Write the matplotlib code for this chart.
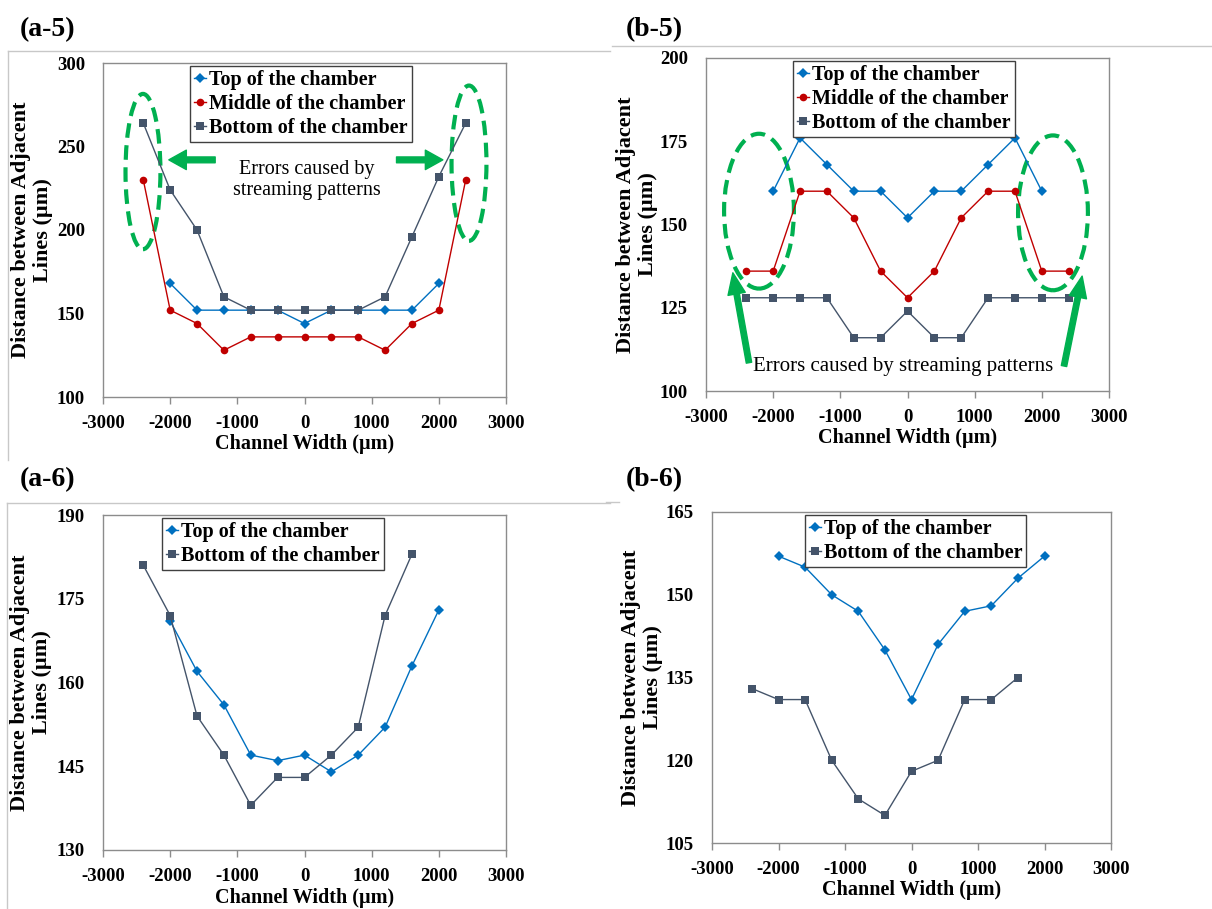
import matplotlib
matplotlib.use("Agg")
import matplotlib.pyplot as plt
from matplotlib.patches import Ellipse
from matplotlib.lines import Line2D

plt.rcParams['font.family'] = ['Liberation Serif', 'DejaVu Serif']
plt.rcParams['axes.unicode_minus'] = False

# ---- data ----
x_full = [-2400, -2000, -1600, -1200, -800, -400, 0, 400, 800, 1200, 1600, 2000, 2400]
x_inner = [-2000, -1600, -1200, -800, -400, 0, 400, 800, 1200, 1600, 2000]
x_left = [-2400, -2000, -1600, -1200, -800, -400, 0, 400, 800, 1200, 1600]

a5_top = [168, 152, 152, 152, 152, 144, 152, 152, 152, 152, 168]
a5_middle = [230, 152, 144, 128, 136, 136, 136, 136, 136, 128, 144, 152, 230]
a5_bottom = [264, 224, 200, 160, 152, 152, 152, 152, 152, 160, 196, 232, 264]

b5_top = [160, 176, 168, 160, 160, 152, 160, 160, 168, 176, 160]
b5_middle = [136, 136, 160, 160, 152, 136, 128, 136, 152, 160, 160, 136, 136]
b5_bottom = [128, 128, 128, 128, 116, 116, 124, 116, 116, 128, 128, 128, 128]

a6_top = [171, 162, 156, 147, 146, 147, 144, 147, 152, 163, 173]
a6_bottom = [181, 172, 154, 147, 138, 143, 143, 147, 152, 172, 183]

b6_top = [157, 155, 150, 147, 140, 131, 141, 147, 148, 153, 157]
b6_bottom = [133, 131, 131, 120, 113, 110, 118, 120, 131, 131, 135]

lbl_top = "Top of the chamber"
lbl_mid = "Middle of the chamber"
lbl_bot = "Bottom of the chamber"

BLUE = '#0070C0'
RED = '#C00000'
SLATE = '#44546A'
GREEN = '#00B050'

fig = plt.figure(figsize=(12.12, 9.09), dpi=100)
W, H = 1212, 909


def px_axes(l, r, t, b):
    return fig.add_axes([l / W, (H - b) / H, (r - l) / W, (b - t) / H])


def style(ax, ylim, yticks, ylab_x):
    ax.set_xlim(-3000, 3000)
    ax.set_xticks(range(-3000, 3001, 1000))
    ax.set_ylim(*ylim)
    ax.set_yticks(yticks)
    for s in ax.spines.values():
        s.set_color('#8c8c8c')
        s.set_linewidth(1.0)
    ax.tick_params(axis='x', length=5, width=1, color='#8c8c8c', pad=8,
                   labelsize=13.5)
    ax.tick_params(axis='y', length=0, pad=13, labelsize=13.5)
    for t in ax.get_xticklabels() + ax.get_yticklabels():
        t.set_fontweight('bold')
    ax.set_xlabel("Channel Width (\u00b5m)", fontsize=14.5, fontweight='bold')
    ax.xaxis.set_label_coords(0.5, -0.112)
    ax.set_ylabel("Distance between Adjacent\nLines (\u00b5m)", fontsize=16,
                  fontweight='bold', linespacing=1.15)
    ax.yaxis.set_label_coords(ylab_x, 0.5)


def series(ax, xs, ys, color, marker, ms, label):
    ax.plot(xs, ys, color=color, lw=1.0, marker=marker, ms=ms,
            markeredgewidth=0, label=label)


def legend(ax, x, y):
    leg = ax.legend(loc='upper left', bbox_to_anchor=(x, y),
                    prop={'weight': 'bold', 'size': 14.5}, handlelength=0.6,
                    handletextpad=0.15, borderpad=0.2, labelspacing=0.18,
                    borderaxespad=0, fancybox=False, framealpha=1)
    leg.get_frame().set_edgecolor('#404040')
    leg.get_frame().set_linewidth(1.0)


ARROW_A = 'simple,head_width=1.0,head_length=0.9,tail_width=0.3'
ARROW_B = 'simple,head_width=0.9,head_length=1.1,tail_width=0.28'

# ---- (a-5) ----
ax1 = px_axes(103, 506, 63, 397)
series(ax1, x_inner, a5_top, BLUE, 'D', 5, lbl_top)
series(ax1, x_full, a5_middle, RED, 'o', 5.5, lbl_mid)
series(ax1, x_full, a5_bottom, SLATE, 's', 5.5, lbl_bot)
style(ax1, (100, 300), range(100, 301, 50), -0.124)
legend(ax1, 0.216, 0.99)
for cx, cy in [(-2405, 235), (2449, 240)]:
    ax1.add_patch(Ellipse((cx, cy), 520, 93, fill=False, ec=GREEN, lw=3,
                          ls=(0, (3.5, 1.8))))
ax1.annotate('', xy=(-2020, 242), xytext=(-1330, 242),
             arrowprops=dict(arrowstyle=ARROW_A, color=GREEN, mutation_scale=14,
                             shrinkA=0, shrinkB=0))
ax1.annotate('', xy=(2060, 242), xytext=(1370, 242),
             arrowprops=dict(arrowstyle=ARROW_A, color=GREEN, mutation_scale=14,
                             shrinkA=0, shrinkB=0))
ax1.text(40, 230, "Errors caused by\nstreaming patterns", ha='center', va='center',
         fontsize=14.5, linespacing=1.2)

# ---- (b-5) ----
ax2 = px_axes(706, 1109, 58, 391)
series(ax2, x_inner, b5_top, BLUE, 'D', 5, lbl_top)
series(ax2, x_full, b5_middle, RED, 'o', 5.5, lbl_mid)
series(ax2, x_full, b5_bottom, SLATE, 's', 5.5, lbl_bot)
style(ax2, (100, 200), range(100, 201, 25), -0.119)
legend(ax2, 0.216, 0.99)
for cx, cy in [(-2211, 154), (2166, 153.5)]:
    ax2.add_patch(Ellipse((cx, cy), 1040, 46.5, fill=False, ec=GREEN, lw=3,
                          ls=(0, (3.5, 1.8))))
ax2.annotate('', xy=(-2600, 135.5), xytext=(-2360, 108.5),
             arrowprops=dict(arrowstyle=ARROW_B, color=GREEN, mutation_scale=14,
                             shrinkA=0, shrinkB=0))
ax2.annotate('', xy=(2600, 134.5), xytext=(2330, 107.5),
             arrowprops=dict(arrowstyle=ARROW_B, color=GREEN, mutation_scale=14,
                             shrinkA=0, shrinkB=0))
ax2.text(-60, 107.5, "Errors caused by streaming patterns", ha='center', va='center',
         fontsize=15)

# ---- (a-6) ----
ax3 = px_axes(103, 506, 515, 850)
series(ax3, x_inner, a6_top, BLUE, 'D', 5, lbl_top)
series(ax3, x_left, a6_bottom, SLATE, 's', 5.5, lbl_bot)
style(ax3, (130, 190), range(130, 191, 15), -0.127)
legend(ax3, 0.147, 0.99)

# ---- (b-6) ----
ax4 = px_axes(712, 1111, 512, 843)
series(ax4, x_inner, b6_top, BLUE, 'D', 5, lbl_top)
series(ax4, x_left, b6_bottom, SLATE, 's', 5.5, lbl_bot)
style(ax4, (105, 165), range(105, 166, 15), -0.123)
legend(ax4, 0.232, 0.99)

# ---- panel labels and frame lines ----
for txt, px, py in [("(a-5)", 20, 30), ("(b-5)", 626, 30), ("(a-6)", 20, 480), ("(b-6)", 626, 480)]:
    fig.text(px / W, 1 - py / H, txt, fontsize=20, fontweight='bold', va='center', ha='left')

frame = [((8, 610), (50.7, 50.7)), ((8, 8), (50.7, 460)),
         ((612, 1212), (45.7, 45.7)),
         ((7, 610), (502.7, 502.7)), ((7, 7), (502.7, 909)),
         ((606, 619), (502, 502))]
for xs, ys in frame:
    fig.add_artist(Line2D([v / W for v in xs], [1 - v / H for v in ys],
                          transform=fig.transFigure, color='#c8c8c8', lw=1))

fig.savefig("out.png", dpi=100)
